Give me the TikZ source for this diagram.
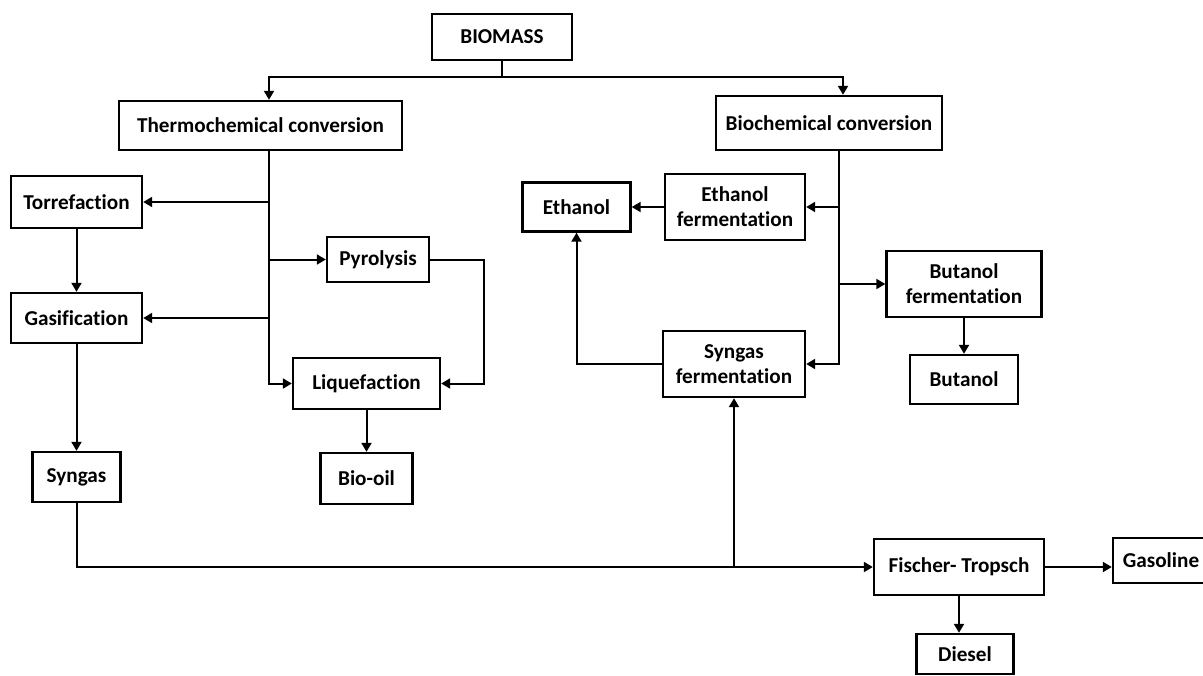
\documentclass[tikz,border=0pt]{standalone}
\usepackage{fontspec}
\setmainfont{Carlito}[Ligatures=NoCommon]
\usetikzlibrary{arrows.meta}
\begin{document}
\begin{tikzpicture}[x=0.5pt, y=-0.5pt,
  box/.style={draw, line width=1.2pt, align=center, inner sep=0pt,
    font=\fontsize{10.6}{12.5}\selectfont\bfseries},
  wh/.style 2 args={minimum width=#1*0.5pt, minimum height=#2*0.5pt},
  ln/.style={line width=1pt},
  arr/.style={line width=1pt, -{Triangle[length=4.5pt, width=5pt]}}]
\useasboundingbox (0,0) rectangle (1203,675);

\node[box, wh={140}{46}] (bm) at (502,37){BIOMASS};
\node[box, wh={283}{49}] (tc) at (260.5,125.5){Thermochemical conversion};
\node[box, wh={226}{54}] (bc) at (829,123){Biochemical conversion};

\node[box, wh={131}{52}] (to) at (76.5,202){Torrefaction};
\node[box, wh={131}{50}] (gs) at (76.5,318){Gasification};
\node[box, wh={88}{50}] (sy) at (76.5,477){Syngas};
\node[box, wh={102}{45}] (py) at (378,259.5){Pyrolysis};
\node[box, wh={147}{51}] (lq) at (366.5,383.5){Liquefaction};
\node[box, wh={92}{51}] (bo) at (366.5,478.5){Bio-oil};

\node[box, wh={108}{49}] (et) at (576.5,207){Ethanol};
\node[box, wh={140}{66}] (ef) at (735,207){Ethanol\\fermentation};
\node[box, wh={142}{66}] (sf) at (734,364){Syngas\\fermentation};
\node[box, wh={155}{66}] (bf) at (964,284){Butanol\\fermentation};
\node[box, wh={108}{49}] (bu) at (964,379.5){Butanol};

\node[box, wh={170}{56}] (ft) at (959,567){Fischer- Tropsch};
\node[box, wh={96}{45}] (gl) at (1161,560.5){Gasoline};
\node[box, wh={97}{40}] (di) at (965,654){Diesel};

\coordinate (tj) at (269,77);
\coordinate (bj) at (843,77);
\coordinate (tt) at (269,0);
\coordinate (bt) at (839,0);
\coordinate (pr) at (484,383.5);
\coordinate (sj) at (734,567);

\draw[ln](bm.south) -- (bm.south |- tj);
\draw[arr](bm.south |- tj) -- (tj) -- (tj |- tc.north);
\draw[arr](bm.south |- tj) -- (bj) -- (bj |- bc.north);

\draw[arr](tt |- tc.south) |- (lq.west);
\draw[arr](tt |- to.east) -- (to.east);
\draw[arr](tt |- py.west) -- (py.west);
\draw[arr](tt |- gs.east) -- (gs.east);
\draw[arr](to.south) -- (gs.north);
\draw[arr](gs.south) -- (sy.north);
\draw[arr](py.east) -| (pr) -- (lq.east);
\draw[arr](lq.south) -- (bo.north);

\draw[arr](bt |- bc.south) |- (sf.east);
\draw[arr](bt |- ef.east) -- (ef.east);
\draw[arr](bt |- bf.west) -- (bf.west);
\draw[arr](ef.west) -- (et.east);
\draw[arr](sf.west) -| (et.south);
\draw[arr](bf.south) -- (bu.north);

\draw[arr](sy.south) |- (ft.west);
\draw[arr](sj) -- (sf.south);
\draw[arr](ft.east) -- (ft.east -| gl.west);
\draw[arr](ft.south) -- (ft.south |- di.north);

\end{tikzpicture}
\end{document}
